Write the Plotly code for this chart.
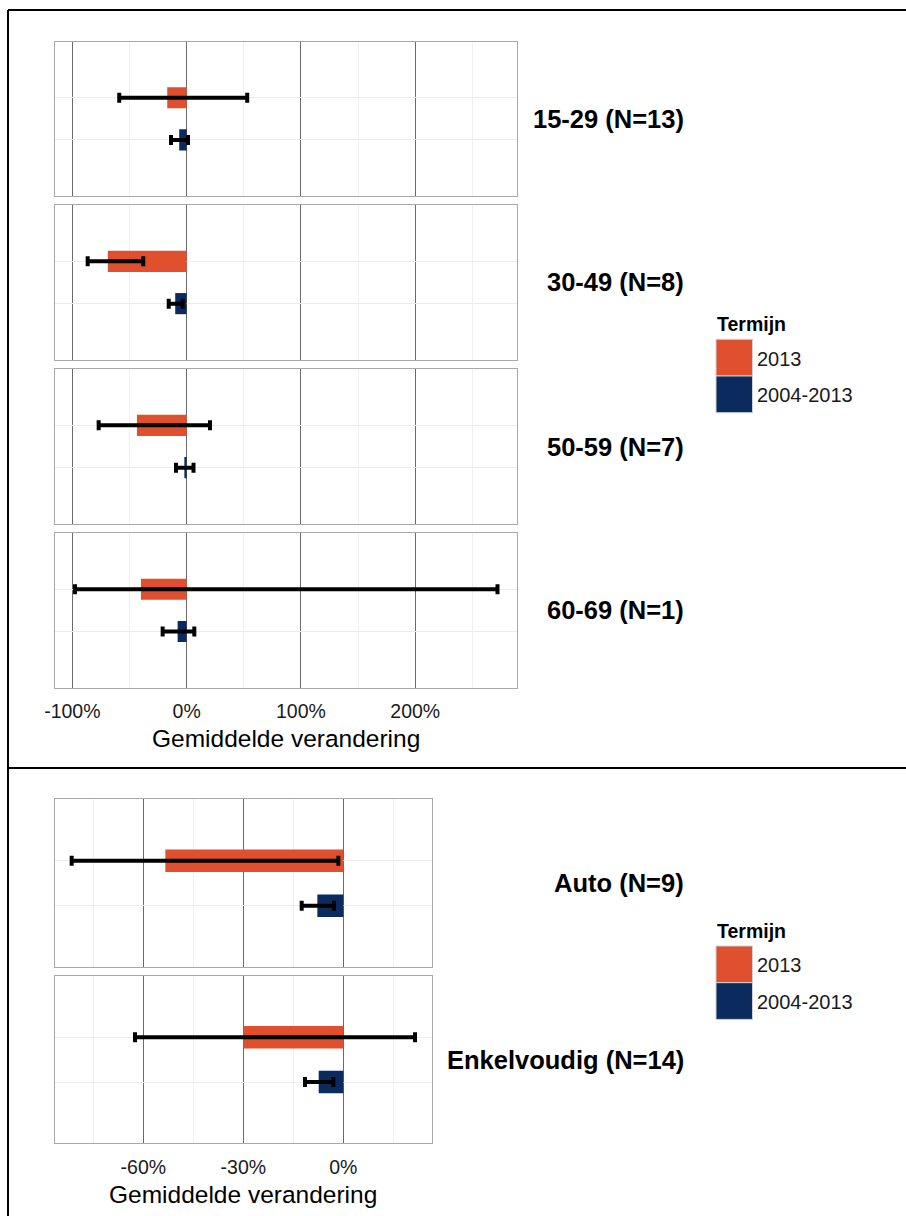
import plotly.graph_objects as go

# ---- data (percent change) ----
terms = ["2013", "2004-2013"]
term_colors = ["#E04F2E", "#0B2A5E"]

age_groups = ["15-29 (N=13)", "30-49 (N=8)", "50-59 (N=7)", "60-69 (N=1)"]
age_mean_2013 = [-17, -69, -43.5, -40]
age_lo_2013 = [-59, -86.6, -77, -97.7]
age_hi_2013 = [53, -38, 20.4, 272]
age_mean_long = [-6.5, -10, -2, -7.9]
age_lo_long = [-13.7, -15.7, -9.3, -21]
age_hi_long = [1.2, -3.5, 6, 6.7]
age_tickvals = [-100, 0, 100, 200]
age_ticktext = ["-100%", "0%", "100%", "200%"]

mode_groups = ["Auto (N=9)", "Enkelvoudig (N=14)"]
mode_mean_2013 = [-53.4, -30]
mode_lo_2013 = [-81.5, -62.5]
mode_hi_2013 = [-1.5, 21.5]
mode_mean_long = [-7.8, -7.4]
mode_lo_long = [-12.5, -11.5]
mode_hi_long = [-2.8, -3]
mode_tickvals = [-60, -30, 0]
mode_ticktext = ["-60%", "-30%", "0%"]

axis_title = "Gemiddelde verandering"
legend_title = "Termijn"

# ---- layout geometry (pixels) ----
W, H = 906, 1216
FONT = "Liberation Sans, Arial, Helvetica, sans-serif"


def px_x(p):
    return p / W


def px_y(p):
    return 1 - p / H


top_x = (55, 516.7)
top_rows = [(41.7, 196), (205, 360), (369, 524), (533, 687.7)]
bot_x = (55, 431.7)
bot_rows = [(799.3, 967.3), (976, 1143.3)]

fig = go.Figure()
layout = {}
annotations = []
shapes = []


def add_panel(groups, means, los, his, rows, xdom, xrange, yrange,
              tickvals, ticktext, minor_dtick, first_index, title_y):
    n = len(groups)
    for i, grp in enumerate(groups):
        k = first_index + i
        xname = "x" if k == 1 else f"x{k}"
        yname = "y" if k == 1 else f"y{k}"
        for t, term in enumerate(terms):
            m = means[t][i]
            fig.add_trace(go.Bar(
                y=[term], x=[m], orientation="h", width=0.5,
                marker=dict(color=term_colors[t], line=dict(width=0)),
                error_x=dict(type="data", symmetric=False,
                             array=[his[t][i] - m], arrayminus=[m - los[t][i]],
                             color="black", thickness=4, width=5),
                xaxis=xname, yaxis=yname, showlegend=False, name=term,
            ))
        top, bottom = rows[i]
        last = i == n - 1
        first_x = "x" if first_index == 1 else f"x{first_index}"
        layout["xaxis" if k == 1 else f"xaxis{k}"] = dict(
            domain=[px_x(xdom[0]), px_x(xdom[1])], anchor=yname,
            range=xrange, tickvals=tickvals, ticktext=ticktext,
            showticklabels=last, ticks="", ticklabelstandoff=6,
            tickfont=dict(size=19.5, color="#1a1a1a", family=FONT),
            showgrid=True, gridcolor="#6a6a6a", gridwidth=1,
            minor=dict(dtick=minor_dtick, tick0=tickvals[0], showgrid=True,
                       gridcolor="#f0f0f0", gridwidth=1, ticks=""),
            zeroline=False, showline=True, mirror=True,
            linecolor="#a8a8a8", linewidth=1.2, automargin=False,
            matches=None if k == first_index else first_x,
        )
        layout["yaxis" if k == 1 else f"yaxis{k}"] = dict(
            domain=[px_y(bottom), px_y(top)], anchor=xname,
            type="category", categoryorder="array",
            categoryarray=[terms[1], terms[0]],
            range=yrange, showticklabels=False, ticks="",
            showgrid=True, gridcolor="#ececec", gridwidth=1,
            zeroline=False, showline=True, mirror=True,
            linecolor="#a8a8a8", linewidth=1.2, automargin=False,
        )
        annotations.append(dict(
            text=f"<b>{grp}</b>", xref="paper", yref="paper",
            x=px_x(686), y=px_y((top + bottom) / 2),
            xanchor="right", yanchor="middle", showarrow=False,
            font=dict(size=25.5, color="black", family=FONT),
        ))
    # x-axis title, centred under the facet column
    annotations.append(dict(
        text=axis_title, xref="paper", yref="paper",
        x=px_x((xdom[0] + xdom[1]) / 2), y=px_y(title_y),
        xanchor="center", yanchor="middle", showarrow=False, borderpad=0,
        font=dict(size=24.5, color="black", family=FONT),
    ))


add_panel(age_groups, [age_mean_2013, age_mean_long],
          [age_lo_2013, age_lo_long], [age_hi_2013, age_hi_long],
          top_rows, top_x, [-115.2, 288.8], [-1.333, 2.333],
          age_tickvals, age_ticktext, 50, 1, 738.5)
add_panel(mode_groups, [mode_mean_2013, mode_mean_long],
          [mode_lo_2013, mode_lo_long], [mode_hi_2013, mode_hi_long],
          bot_rows, bot_x, [-86.5, 26.5], [-1.367, 2.367],
          mode_tickvals, mode_ticktext, 15, 5, 1194.5)


# legend blocks drawn in page coordinates
def add_legend(title_y, key_top):
    annotations.append(dict(
        text=f"<b>{legend_title}</b>", xref="paper", yref="paper",
        x=px_x(715), y=px_y(title_y), xanchor="left", yanchor="middle",
        showarrow=False, font=dict(size=19.5, color="black", family=FONT),
    ))
    key = 36.7
    for t, term in enumerate(terms):
        y0 = key_top + t * key
        shapes.append(dict(
            type="rect", xref="paper", yref="paper",
            x0=px_x(716), x1=px_x(752.5), y0=px_y(y0 + key), y1=px_y(y0),
            fillcolor=term_colors[t], line=dict(color="#d0d0d0", width=1),
        ))
        annotations.append(dict(
            text=term, xref="paper", yref="paper",
            x=px_x(755), y=px_y(y0 + key / 2 + 1), xanchor="left",
            yanchor="middle", showarrow=False,
            font=dict(size=20, color="#1a1a1a", family=FONT),
        ))


add_legend(324, 339.3)
add_legend(931, 946)

# page frame and separator
for x0, y0, x1, y1 in [(8, 10, 906, 10), (8, 10, 8, 1216), (8, 768, 906, 768)]:
    shapes.append(dict(type="line", xref="paper", yref="paper",
                       x0=px_x(x0), y0=px_y(y0), x1=px_x(x1), y1=px_y(y1),
                       line=dict(color="black", width=2)))

fig.update_layout(
    width=W, height=H,
    margin=dict(l=0, r=0, t=0, b=0, pad=0, autoexpand=False),
    paper_bgcolor="white", plot_bgcolor="white",
    barmode="overlay", showlegend=False,
    font=dict(family=FONT),
    annotations=annotations, shapes=shapes,
    **layout,
)

fig.write_html("out.html")
